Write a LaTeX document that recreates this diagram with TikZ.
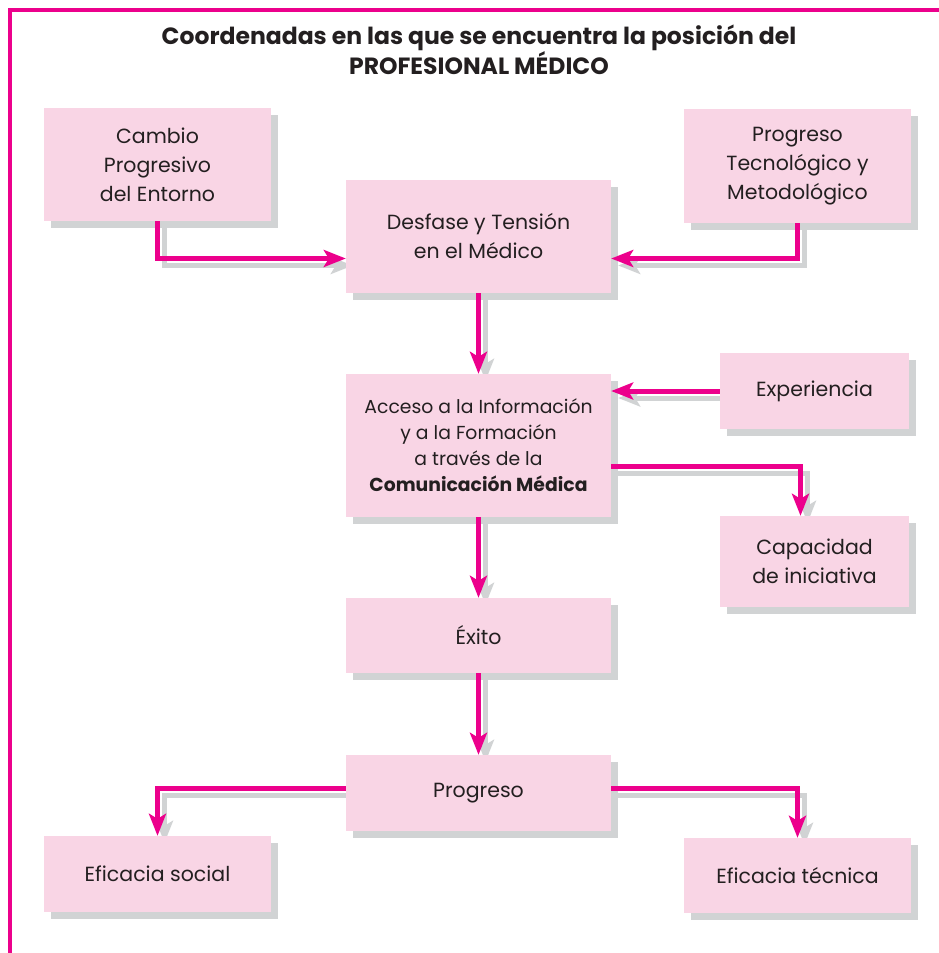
\documentclass[tikz,border=0pt]{standalone}
\usepackage{fontspec}
\setmainfont{Poppins}
\usetikzlibrary{arrows.meta,shadows}

\definecolor{rosa}{RGB}{249,213,229}
\definecolor{fucsia}{RGB}{236,0,140}
\definecolor{gris}{RGB}{209,211,212}
\definecolor{tinta}{RGB}{35,31,32}

\pgfdeclarelayer{fondo}
\pgfsetlayers{fondo,main}

\tikzset{
  caja/.style={fill=rosa,text=tinta,align=center,inner sep=0pt,
    font=\fontsize{20.5}{29}\selectfont,
    drop shadow={shadow xshift=7pt,shadow yshift=-7pt,fill=gris,opacity=1}},
  flecha/.style={draw=fucsia,line width=5pt,-{Stealth[length=22pt,width=17pt,inset=5pt]}},
  sombraflecha/.style={flecha,draw=gris,transform canvas={shift={(7pt,-7pt)}}}
}
\newcommand{\conector}[1]{%
  \begin{pgfonlayer}{fondo}\draw[sombraflecha] #1;\end{pgfonlayer}
  \draw[flecha] #1;}

\begin{document}
\begin{tikzpicture}[x=1pt,y=-1pt,line join=miter]
  \useasboundingbox (0,0) rectangle (939,953);
  % marco
  \draw[fucsia,line width=4pt] (10,953)--(10,10)--(939,10);
  \node[text=tinta,align=center,font=\bfseries\fontsize{23.5}{26}\selectfont] (titulo) at (479,50)
    {Coordenadas en las que se encuentra la posición del\\PROFESIONAL MÉDICO};

  \node[caja,minimum width=227pt,minimum height=113pt] (cambio) at (157.5,164.5)
    {Cambio\\Progresivo\\del Entorno};
  \node[caja,minimum width=227pt,minimum height=114pt] (progtec) at (797.5,166)
    {Progreso\\Tecnológico y\\Metodológico};
  \node[caja,minimum width=265pt,minimum height=113pt] (desfase) at (478.5,236.5)
    {Desfase y Tensión\\en el Médico};
  \node[caja,minimum width=265pt,minimum height=143pt,font=\fontsize{18.8}{26}\selectfont] (acceso) at (478.5,445.5)
    {Acceso a la Información\\y a la Formación\\a través de la\\\textbf{Comunicación Médica}};
  \node[caja,minimum width=189pt,minimum height=76pt] (experiencia) at (814.5,391) {Experiencia};
  \node[caja,minimum width=189pt,minimum height=91pt] (capacidad) at (814.5,561.5)
    {Capacidad\\de iniciativa};
  \node[caja,minimum width=265pt,minimum height=75pt] (exito) at (478.5,635.5) {Éxito};
  \node[caja,minimum width=265pt,minimum height=76pt] (progreso) at (478.5,793) {Progreso};
  \node[caja,minimum width=227pt,minimum height=76pt] (social) at (157.5,874) {Eficacia social};
  \node[caja,minimum width=227pt,minimum height=75pt] (tecnica) at (797.5,875.5) {Eficacia técnica};

  % conectores
  \conector{(cambio.south) |- ([yshift=-22pt]desfase.west)}
  \conector{(progtec.south) |- ([yshift=-22pt]desfase.east)}
  \conector{(desfase) -- (acceso)}
  \conector{(experiencia.west) -- (acceso.east |- experiencia.west)}
  \conector{([yshift=-21pt]acceso.east) -| ([xshift=-14pt]capacidad.north)}
  \conector{(acceso) -- (exito)}
  \conector{(exito) -- (progreso)}
  \conector{([yshift=5pt]progreso.west) -| (social.north)}
  \conector{([yshift=5pt]progreso.east) -| (tecnica.north)}
\end{tikzpicture}
\end{document}
